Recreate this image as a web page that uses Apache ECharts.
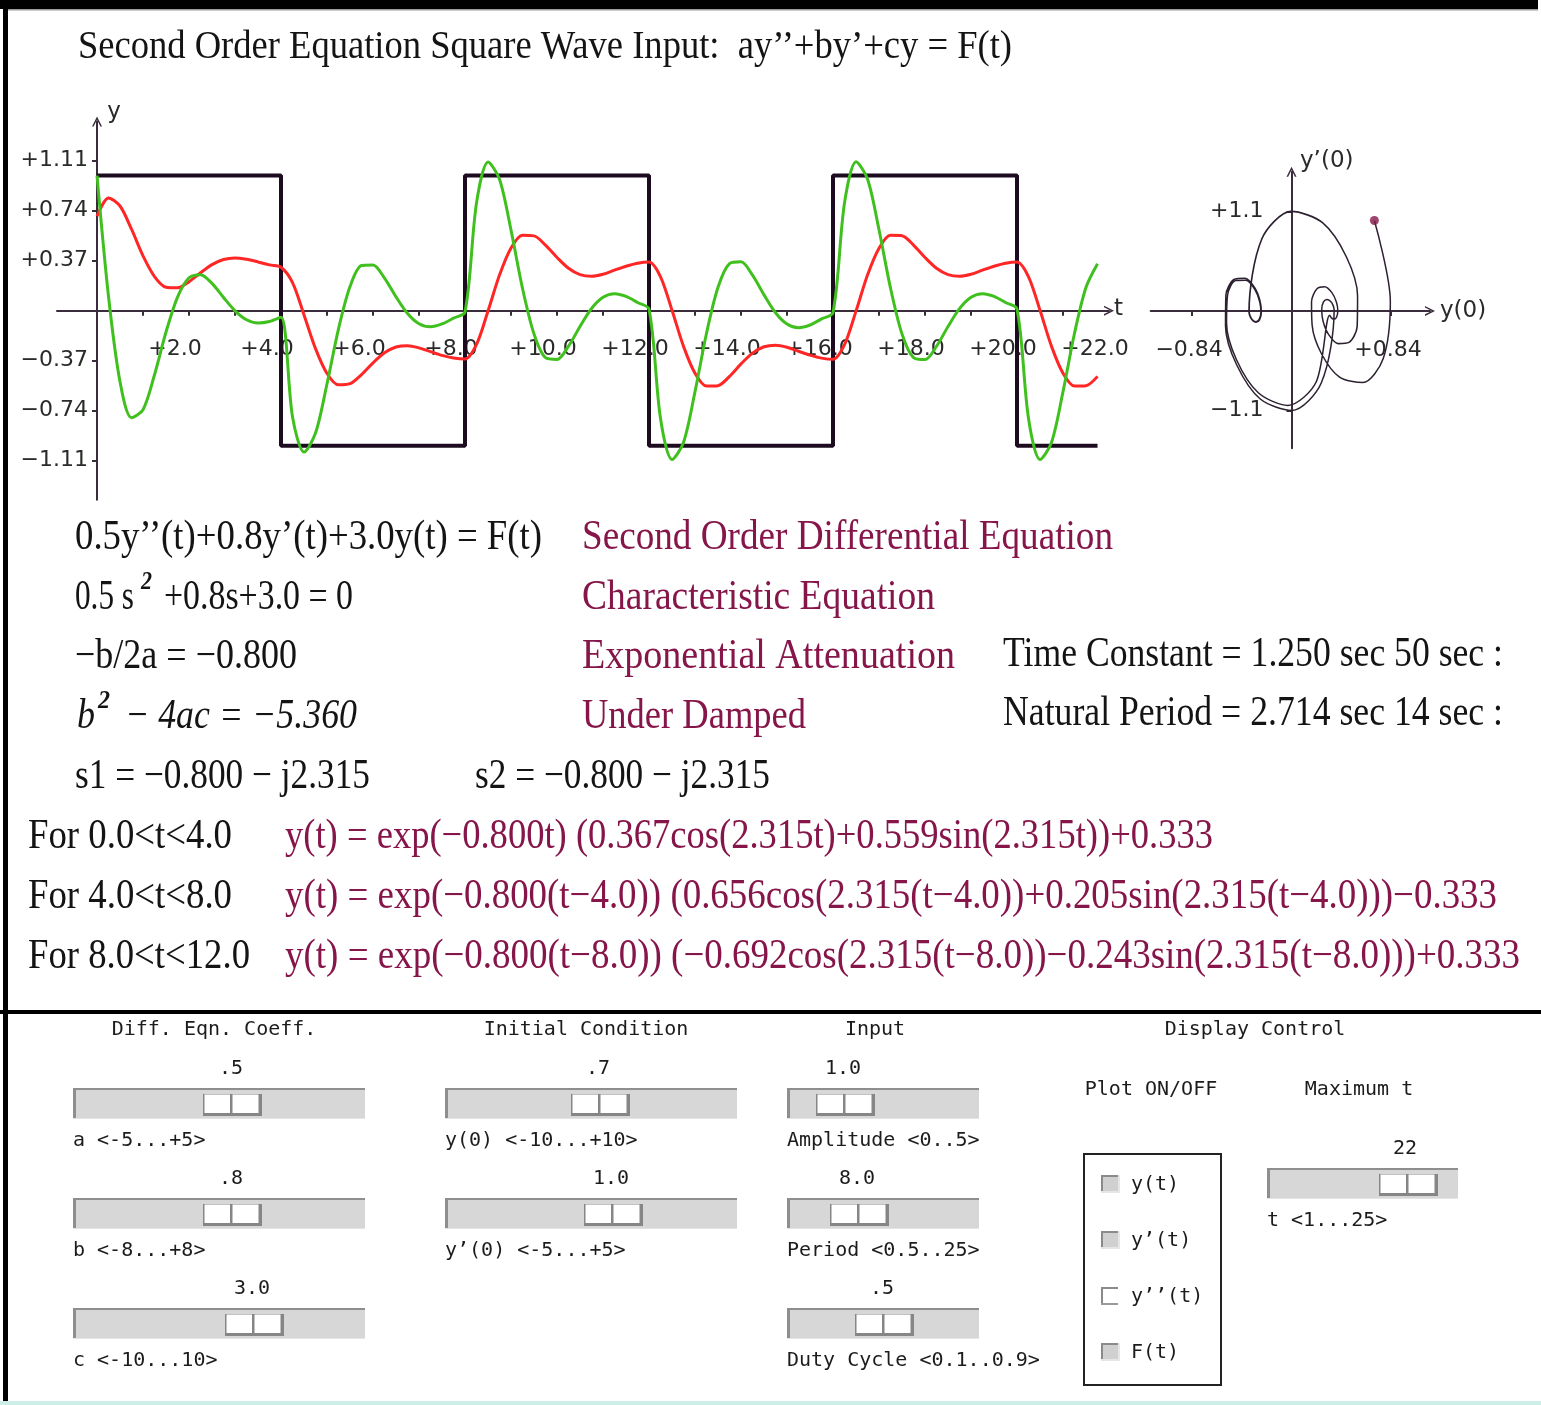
<!DOCTYPE html>
<html>
<head>
<meta charset="utf-8">
<script src="https://cdn.jsdelivr.net/npm/echarts@6/dist/echarts.min.js"></script>
<style>
html,body{margin:0;padding:0;background:#fff;}
#chart{width:1541px;height:1405px;}
</style>
</head>
<body>
<div id="chart"></div>
<script>
// ---- data ---------------------------------------------------------------
// sample times (s)
const tVals = [
  0,0.25,0.5,0.75,1,1.25,1.5,1.75,2,2.25,2.5,2.75,3,3.25,3.5,3.75,
  4,4.25,4.5,4.75,5,5.25,5.5,5.75,6,6.25,6.5,6.75,7,7.25,7.5,7.75,
  8,8.25,8.5,8.75,9,9.25,9.5,9.75,10,10.25,10.5,10.75,11,11.25,11.5,11.75,
  12,12.25,12.5,12.75,13,13.25,13.5,13.75,14,14.25,14.5,14.75,15,15.25,15.5,15.75,
  16,16.25,16.5,16.75,17,17.25,17.5,17.75,18,18.25,18.5,18.75,19,19.25,19.5,19.75,
  20,20.25,20.5,20.75,21,21.25,21.5,21.75
];
// response y(t)
const yVals = [
  0.700,0.835,0.775,0.603,0.406,0.253,0.174,0.169,0.215,0.281,0.341,0.379,0.391,0.381,0.361,0.339,
  0.322,0.208,-0.031,-0.281,-0.465,-0.549,-0.540,-0.473,-0.386,-0.312,-0.269,-0.259,-0.275,-0.303,-0.331,-0.350,
  -0.358,-0.250,-0.002,0.264,0.464,0.558,0.554,0.485,0.394,0.314,0.267,0.255,0.270,0.300,0.329,0.351,
  0.360,0.251,0.003,-0.264,-0.463,-0.558,-0.555,-0.486,-0.394,-0.314,-0.267,-0.255,-0.270,-0.300,-0.329,-0.351,
  -0.360,-0.251,-0.003,0.264,0.463,0.558,0.555,0.486,0.394,0.314,0.267,0.255,0.270,0.300,0.329,0.351,
  0.360,0.251,0.003,-0.264,-0.463,-0.558,-0.555,-0.486
];
// derivative y'(t)
const ypVals = [
  1.000,0.105,-0.526,-0.792,-0.733,-0.474,-0.158,0.101,0.244,0.267,0.202,0.098,-0.001,-0.067,-0.091,-0.080,
  -0.049,-0.787,-1.046,-0.906,-0.541,-0.134,0.179,0.335,0.339,0.241,0.102,-0.021,-0.097,-0.119,-0.098,-0.055,
  -0.009,0.798,1.100,0.973,0.596,0.165,-0.173,-0.348,-0.361,-0.262,-0.117,0.016,0.099,0.126,0.106,0.061,
  0.012,-0.798,-1.102,-0.975,-0.599,-0.167,0.173,0.348,0.362,0.263,0.117,-0.015,-0.099,-0.126,-0.106,-0.061,
  -0.013,0.798,1.102,0.975,0.599,0.167,-0.173,-0.348,-0.362,-0.263,-0.117,0.015,0.099,0.126,0.106,0.061,
  0.013,-0.798,-1.102,-0.975,-0.599,-0.167,0.173,0.348
];
// square-wave input F(t)
const fTimes = [0,4,4,8,8,12,12,16,16,20,20,21.75];
const fVals  = [1,1,-1,-1,1,1,-1,-1,1,1,-1,-1];

// axis ticks and labels
const tTicks = [1,2,3,4,5,6,7,8,9,10,11,12,13,14,15,16,17,18,19,20,21];
const tLabels = [2,4,6,8,10,12,14,16,18,20,22];
const yTicks = [-1.11,-0.74,-0.37,0.37,0.74,1.11];
const phaseXTicks = [-0.84,0.84];
const phaseYTicks = [-1.1,1.1];

// text content
const titleText = 'Second Order Equation Square Wave Input:  ay\u2019\u2019+by\u2019+cy = F(t)';
const eqnLines = {
  ode: '0.5y\u2019\u2019(t)+0.8y\u2019(t)+3.0y(t) = F(t)',
  charA: '0.5 s', charB: '+0.8s+3.0 = 0',
  alpha: '\u2212b/2a = \u22120.800',
  discA: 'b', discB: '\u2212 4ac = \u22125.360',
  s1: 's1 = \u22120.800 \u2212 j2.315',
  s2: 's2 = \u22120.800 \u2212 j2.315'
};
const eqnNotes = ['Second Order Differential Equation','Characteristic Equation','Exponential Attenuation','Under Damped'];
const timeNotes = ['Time Constant = 1.250 sec 50 sec :','Natural Period = 2.714 sec 14 sec :'];
const rangeText = ['For 0.0<t<4.0','For 4.0<t<8.0','For 8.0<t<12.0'];
const solutionText = [
  'y(t) = exp(\u22120.800t) (0.367cos(2.315t)+0.559sin(2.315t))+0.333',
  'y(t) = exp(\u22120.800(t\u22124.0)) (0.656cos(2.315(t\u22124.0))+0.205sin(2.315(t\u22124.0)))\u22120.333',
  'y(t) = exp(\u22120.800(t\u22128.0)) (\u22120.692cos(2.315(t\u22128.0))\u22120.243sin(2.315(t\u22128.0)))+0.333'
];

// ---- styling helpers --------------------------------------------------------
const SERIF = '"Liberation Serif", "Times New Roman", serif';
const SANS = '"DejaVu Sans", sans-serif';
const MONO = '"DejaVu Sans Mono", monospace';
const INK = '#141414';
const CRIMSON = '#86164a';
const AXIS = '#3a2c3c';
const LABEL = '#2a2a2a';
const ARROW = 'path://M0,10 L5,0 L10,10 L8.4,10 L5,3.2 L1.6,10 Z';

const measure = document.createElement('canvas').getContext('2d');

// serif text squeezed horizontally to a given width
function serif(str, x, y, width, opt) {
  opt = opt || {};
  const size = opt.size || 42;
  const fs = opt.italic ? 'italic' : 'normal';
  const fw = opt.bold ? 'bold' : 'normal';
  measure.font = fs + ' ' + fw + ' ' + size + 'px ' + SERIF;
  const sx = width ? width / measure.measureText(str).width : 1;
  return {
    type: 'text', x: x, y: y, scaleX: sx, silent: true,
    style: {
      text: str, x: 0, y: 0, fontFamily: SERIF, fontSize: size,
      fontStyle: fs, fontWeight: fw, fill: opt.color || INK,
      align: 'left', verticalAlign: 'middle'
    }
  };
}

function mono(str, x, y, align, size) {
  return {
    type: 'text', x: x, y: y, silent: true,
    style: {
      text: str, x: 0, y: 0, fontFamily: MONO, fontSize: size || 20,
      fill: '#1c1c1c', align: align || 'left', verticalAlign: 'middle'
    }
  };
}

function sans(str, x, y, align) {
  return {
    type: 'text', x: x, y: y, silent: true,
    style: {
      text: str, x: 0, y: 0, fontFamily: SANS, fontSize: 23,
      fill: LABEL, align: align || 'left', verticalAlign: 'middle'
    }
  };
}

function rect(x, y, w, h, fill, stroke, lw) {
  return {
    type: 'rect', silent: true,
    shape: { x: x, y: y, width: w, height: h },
    style: { fill: fill || 'none', stroke: stroke || 'none', lineWidth: lw || 0 }
  };
}

// a scroll-bar style slider: track [x0,x1] at top y0, thumb left edge tx
function slider(x0, x1, y0, tx) {
  const h = 31;
  return [
    rect(x0, y0, x1 - x0, h, '#d7d7d7'),
    rect(x0, y0, x1 - x0, 2, '#8e8e8e'),
    rect(x0, y0, 3, h, '#8e8e8e'),
    rect(x0, y0 + h - 1, x1 - x0, 1, '#e4e4e4'),
    rect(tx, y0 + 6, 59, 22, '#868686'),
    rect(tx + 1.5, y0 + 6.5, 25.5, 18.5, '#ffffff'),
    rect(tx + 29.5, y0 + 6.5, 26, 18.5, '#ffffff')
  ];
}

function checkbox(x, y, on) {
  return [
    rect(x, y, 19, 18, on ? '#d0d0d0' : '#ffffff'),
    rect(x, y, 19, 2, '#8a8a8a'),
    rect(x, y, 2, 18, '#8a8a8a'),
    rect(x, y + 16, 19, 2, on ? '#e6e6e6' : '#9a9a9a'),
    rect(x + 17, y, 2, 18, on ? '#e6e6e6' : '#ffffff')
  ];
}

const signed = (v, d) => (v > 0 ? '+' : '\u2212') + Math.abs(v).toFixed(d);

// ---- graphic elements -------------------------------------------------------
const g = [];
// frame
g.push(rect(0, 0, 1538, 9, '#000'));
g.push(rect(8, 9, 1530, 1.5, '#9a9a9a'));
g.push(rect(3, 0, 5, 1402, '#000'));
g.push(rect(0, 1010, 1541, 4, '#000'));
g.push(rect(0, 1401, 1541, 4, '#cdeee6'));

// title and axis names
g.push(serif(titleText, 78, 47, 934, { size: 40 }));
g.push(sans('y', 114, 112, 'center'));
g.push(sans('t', 1114, 309));
g.push(sans('y\u2019(0)', 1300, 161));
g.push(sans('y(0)', 1440, 311));

// equation block
g.push(serif(eqnLines.ode, 75, 538, 467));
g.push(serif(eqnNotes[0], 582, 538, 531, { color: CRIMSON }));
g.push(serif(eqnLines.charA, 75, 598, 59));
g.push(serif('2', 141, 582, 11, { size: 26, bold: true, italic: true }));
g.push(serif(eqnLines.charB, 164, 598, 189));
g.push(serif(eqnNotes[1], 582, 598, 353, { color: CRIMSON }));
g.push(serif(eqnLines.alpha, 75, 657, 222));
g.push(serif(eqnNotes[2], 582, 657, 373, { color: CRIMSON }));
g.push(serif(timeNotes[0], 1003, 655, 500));
g.push(serif(eqnLines.discA, 77, 717, 18, { italic: true }));
g.push(serif('2', 98, 701, 12, { size: 26, bold: true, italic: true }));
g.push(serif(eqnLines.discB, 125, 717, 232, { italic: true }));
g.push(serif(eqnNotes[3], 582, 717, 224, { color: CRIMSON }));
g.push(serif(timeNotes[1], 1003, 714, 500));
g.push(serif(eqnLines.s1, 75, 777, 295));
g.push(serif(eqnLines.s2, 475, 777, 295));
const rangeW = [204, 204, 222];
const solW = [928, 1212, 1235];
for (let i = 0; i < 3; i++) {
  const yy = 837 + 60 * i;
  g.push(serif(rangeText[i], 28, yy, rangeW[i]));
  g.push(serif(solutionText[i], 285, yy, solW[i], { color: CRIMSON }));
}

// control panel
g.push(mono('Diff. Eqn. Coeff.', 214, 1030, 'center'));
g.push(mono('Initial Condition', 586, 1030, 'center'));
g.push(mono('Input', 875, 1030, 'center'));
g.push(mono('Display Control', 1255, 1030, 'center'));
g.push(mono('Plot ON/OFF', 1151, 1090, 'center'));
g.push(mono('Maximum t', 1359, 1090, 'center'));

const sliders = [
  { x0: 73, x1: 365, y0: 1088, tx: 203, val: '.5', vx: 231, lab: 'a <-5...+5>' },
  { x0: 73, x1: 365, y0: 1198, tx: 203, val: '.8', vx: 231, lab: 'b <-8...+8>' },
  { x0: 73, x1: 365, y0: 1308, tx: 225, val: '3.0', vx: 252, lab: 'c <-10...10>' },
  { x0: 445, x1: 737, y0: 1088, tx: 571, val: '.7', vx: 598, lab: 'y(0) <-10...+10>' },
  { x0: 445, x1: 737, y0: 1198, tx: 584, val: '1.0', vx: 611, lab: 'y\u2019(0) <-5...+5>' },
  { x0: 787, x1: 979, y0: 1088, tx: 816, val: '1.0', vx: 843, lab: 'Amplitude <0..5>' },
  { x0: 787, x1: 979, y0: 1198, tx: 830, val: '8.0', vx: 857, lab: 'Period <0.5..25>' },
  { x0: 787, x1: 979, y0: 1308, tx: 855, val: '.5', vx: 882, lab: 'Duty Cycle <0.1..0.9>' },
  { x0: 1267, x1: 1458, y0: 1168, tx: 1379, val: '22', vx: 1405, lab: 't <1...25>' }
];
sliders.forEach(s => {
  slider(s.x0, s.x1, s.y0, s.tx).forEach(e => g.push(e));
  g.push(mono(s.val, s.vx, s.y0 - 19, 'center'));
  g.push(mono(s.lab, s.x0, s.y0 + 53));
});

g.push(rect(1084, 1154, 137, 231, 'none', '#222', 2));
const boxes = [['y(t)', true], ['y\u2019(t)', true], ['y\u2019\u2019(t)', false], ['F(t)', true]];
boxes.forEach((b, i) => {
  const yy = 1175 + 56 * i;
  checkbox(1101, yy, b[1]).forEach(e => g.push(e));
  g.push(mono(b[0], 1131, yy + 10));
});

// ---- plot frames: axes cross at the origin of each plot ------------------------
const mainBox = { left: 57, top: 121.56, width: 1052.02, height: 378.28, xmin: -0.87, xmax: 22, ymin: -1.4, ymax: 1.4 };
const phaseBox = { left: 1150.7, top: 171.7, width: 279.3, height: 276.6, xmin: -1.19, xmax: 1.17, ymin: -1.52, ymax: 1.54 };
// distance from the grid edge to the zero line, so each axis can be shifted onto it
function zeroOffsets(b) {
  const x0 = -b.xmin / (b.xmax - b.xmin) * b.width;          // from left edge
  const y0 = b.ymin / (b.ymin - b.ymax) * b.height;          // from bottom edge (positive)
  return { yAxisOffset: -x0, xAxisOffset: -y0 };
}
const mainOff = zeroOffsets(mainBox);
const phaseOff = zeroOffsets(phaseBox);

const axisLineBase = {
  onZero: false,
  symbol: ['none', ARROW],
  symbolSize: [11, 10],
  lineStyle: { color: AXIS, width: 2 }
};
const tickBase = (vals) => ({ customValues: vals, length: 5, lineStyle: { color: AXIS, width: 2 } });
const labelBase = { fontFamily: SANS, fontSize: 22, color: LABEL };

const option = {
  animation: false,
  backgroundColor: '#ffffff',
  grid: [
    { left: mainBox.left, top: mainBox.top, width: mainBox.width, height: mainBox.height, outerBoundsMode: 'none', containLabel: false },
    { left: phaseBox.left, top: phaseBox.top, width: phaseBox.width, height: phaseBox.height, outerBoundsMode: 'none', containLabel: false }
  ],
  xAxis: [
    {
      type: 'value', gridIndex: 0, min: mainBox.xmin, max: mainBox.xmax,
      position: 'bottom', offset: mainOff.xAxisOffset,
      axisLine: axisLineBase,
      axisTick: tickBase(tTicks),
      axisLabel: Object.assign({ customValues: tLabels, formatter: v => '+' + v.toFixed(1), margin: 28, padding: [0, 28, 0, 0] }, labelBase),
      splitLine: { show: false }
    },
    {
      type: 'value', gridIndex: 1, min: phaseBox.xmin, max: phaseBox.xmax,
      position: 'bottom', offset: phaseOff.xAxisOffset,
      axisLine: axisLineBase,
      axisTick: tickBase(phaseXTicks),
      axisLabel: Object.assign({ customValues: phaseXTicks, formatter: v => signed(v, 2), margin: 28, padding: [0, 6, 0, 0] }, labelBase),
      splitLine: { show: false }
    }
  ],
  yAxis: [
    {
      type: 'value', gridIndex: 0, min: mainBox.ymin, max: mainBox.ymax,
      position: 'left', offset: mainOff.yAxisOffset,
      axisLine: axisLineBase,
      axisTick: tickBase(yTicks),
      axisLabel: Object.assign({ customValues: yTicks, formatter: v => signed(v, 2), margin: 9 }, labelBase),
      splitLine: { show: false }
    },
    {
      type: 'value', gridIndex: 1, min: phaseBox.ymin, max: phaseBox.ymax,
      position: 'left', offset: phaseOff.yAxisOffset,
      axisLine: axisLineBase,
      axisTick: tickBase(phaseYTicks),
      axisLabel: Object.assign({ customValues: phaseYTicks, formatter: v => signed(v, 1), margin: 28 }, labelBase),
      splitLine: { show: false }
    }
  ],
  series: [
    {
      name: 'F(t)', type: 'line', xAxisIndex: 0, yAxisIndex: 0, silent: true,
      data: fTimes.map((t, i) => [t, fVals[i]]),
      symbol: 'none', lineStyle: { color: '#1d0c20', width: 4 }, z: 2
    },
    {
      name: 'y(t)', type: 'line', xAxisIndex: 0, yAxisIndex: 0, silent: true,
      data: tVals.map((t, i) => [t, yVals[i]]),
      smooth: 0.3, symbol: 'none', lineStyle: { color: '#ff2626', width: 3 }, z: 3
    },
    {
      name: "y'(t)", type: 'line', xAxisIndex: 0, yAxisIndex: 0, silent: true,
      data: tVals.map((t, i) => [t, ypVals[i]]),
      smooth: 0.3, symbol: 'none', lineStyle: { color: '#40c01e', width: 3 }, z: 4
    },
    {
      name: 'phase', type: 'line', xAxisIndex: 1, yAxisIndex: 1, silent: true,
      data: tVals.map((t, i) => [yVals[i], ypVals[i]]),
      smooth: 0.3, symbol: 'none', lineStyle: { color: '#2d2131', width: 1.5 }, z: 3
    },
    {
      name: 'start', type: 'scatter', xAxisIndex: 1, yAxisIndex: 1, silent: true,
      data: [[yVals[0], ypVals[0]]],
      symbol: 'circle', symbolSize: 9, itemStyle: { color: '#86164a' }, z: 5
    }
  ],
  graphic: { elements: g }
};

const chart = echarts.init(document.getElementById('chart'), null, { renderer: 'canvas' });
chart.setOption(option);
</script>
</body>
</html>
